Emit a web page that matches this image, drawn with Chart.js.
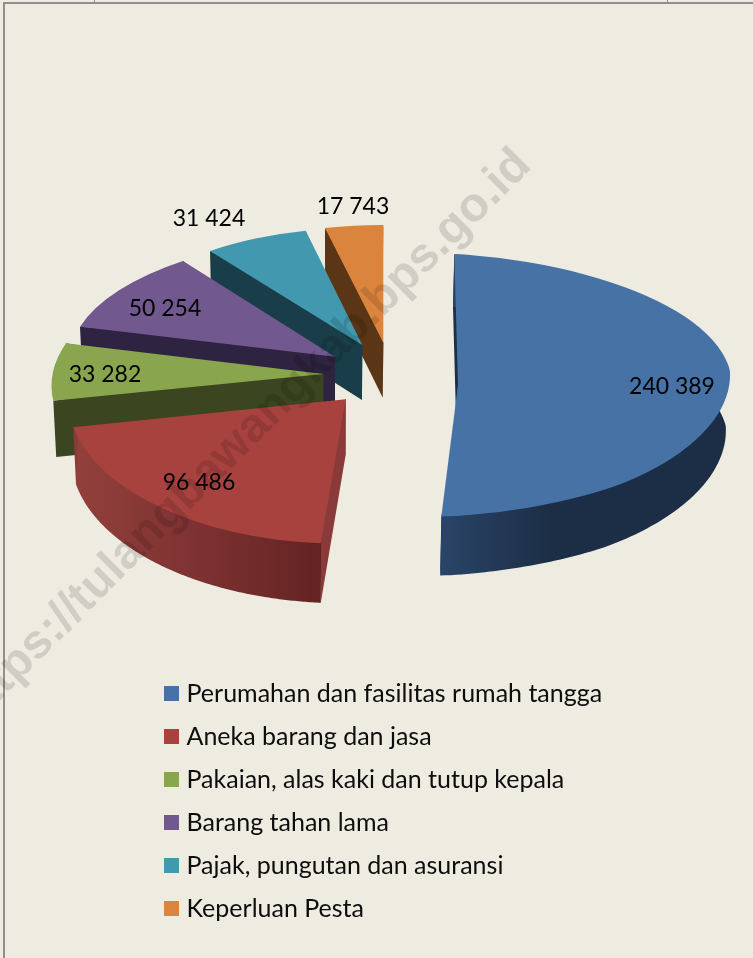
<!DOCTYPE html>
<html>
<head>
<meta charset="utf-8">
<script src="https://cdn.jsdelivr.net/npm/chart.js@4/dist/chart.umd.min.js"></script>
<style>
html,body{margin:0;padding:0;background:#EEECE1;width:753px;height:958px;overflow:hidden}
#frame{position:absolute;left:3px;top:2px;width:760px;height:970px;border:2px solid #8f8f8f;box-sizing:border-box}
.tick{position:absolute;top:0;width:1px;height:2px;background:#8f8f8f}
canvas{position:absolute;left:0;top:0}
</style>
</head>
<body>
<div id="frame"></div>
<div class="tick" style="left:94px"></div>
<div class="tick" style="left:667px"></div>
<canvas id="c" width="753" height="958"></canvas>
<script>
const categories = ["Perumahan dan fasilitas rumah tangga","Aneka barang dan jasa","Pakaian, alas kaki dan tutup kepala","Barang tahan lama","Pajak, pungutan dan asuransi","Keperluan Pesta"];
const values = [240389,96486,33282,50254,31424,17743];
const valueLabels = ["240 389","96 486","33 282","50 254","31 424","17 743"];
const topColors = ["#4672A6","#A8423F","#89A54E","#71588F","#4198AF","#DB843D"];
const watermark = "https://tulangbawangkab.bps.go.id";

// Layout of the exploded 3D view: apex, and two rim points of each slice.
const apex = [[458,385],[345.7,399.3],[323.3,374],[335,356.7],[362.3,345],[383.3,342.7]];
const rimA = [[454.3,254],[320.7,543.3],[53.3,400.7],[80,326.7],[210,251],[325,228]];
const rimB = [[730,378],[73.3,427.3],[66,343.3],[183,261],[305.7,230.7],[383.3,225]];
const labelPos = [[672,387],[199,483],[105,375],[165,309],[209,219],[353,207]];
const radialWall = ["#1c2f47","#8a3a38","#3b451f","#2e2340","#1a3d4a","#5a3516"];
const rimWallStops = [["#2a4468","#1b2e45","#1b2e45"],["#93403c","#7d3231","#632322"]];
const useMidForB = [true,false,false,false,false,false];
// Perspective outline of the large slice: the rim is an ellipse centred away from its apex.
const bigRim = {cx:400,cy:385,a:332,b:133};

function matrixFor(i, el){
  const s = el.startAngle, e = useMidForB[i] ? (el.startAngle+el.endAngle)/2 : el.endAngle;
  const A = apex[i], P = rimA[i], Q = rimB[i];
  const ux=Math.cos(s), uy=Math.sin(s), vx=Math.cos(e), vy=Math.sin(e);
  const det = ux*vy-uy*vx;
  const px=P[0]-A[0], py=P[1]-A[1], qx=Q[0]-A[0], qy=Q[1]-A[1];
  return {
    a:(px*vy-qx*uy)/det, b:(py*vy-qy*uy)/det,
    c:(qx*ux-px*vx)/det, d:(qy*ux-py*vx)/det,
    x:A[0], y:A[1]
  };
}
const rimPoint=(m,t)=>[m.x+m.a*Math.cos(t)+m.c*Math.sin(t), m.y+m.b*Math.cos(t)+m.d*Math.sin(t)];
const dropped=p=>[p[0]+(330-p[0])*0.0105, p[1]+55+(p[1]-340)*0.022];
const poly=(ctx,list)=>{ctx.beginPath();list.forEach((p,k)=>k?ctx.lineTo(p[0],p[1]):ctx.moveTo(p[0],p[1]));ctx.closePath();};
function trim(i,p){
  if(i!==0) return p;
  const dx=(p[0]-bigRim.cx)/bigRim.a, dy=(p[1]-bigRim.cy)/bigRim.b;
  const k=1/Math.hypot(dx,dy);
  return k<1?[bigRim.cx+(p[0]-bigRim.cx)*k,bigRim.cy+(p[1]-bigRim.cy)*k]:p;
}

const pie3d = {
  id:'pie3d',
  beforeDatasetsDraw(chart){
    const ctx = chart.ctx, meta = chart.getDatasetMeta(0);
    const order=[5,4,3,2,1,0];
    order.forEach(i=>{
      const el = meta.data[i], m = matrixFor(i,el);
      const A=[m.x,m.y], P0=trim(i,rimPoint(m,el.startAngle)), P1=trim(i,rimPoint(m,el.endAngle));
      const Pm=rimPoint(m,(el.startAngle+el.endAngle)/2);
      const inner=[A[0]+(Pm[0]-A[0])*0.3,A[1]+(Pm[1]-A[1])*0.3];
      [P1,P0].forEach(P=>{
        poly(ctx,[inner,P,dropped(P),dropped(A),A]);
        ctx.fillStyle=radialWall[i]; ctx.fill();
      });
      if(i<=1){
        const pts=[]; const n=160;
        for(let k=0;k<=n;k++){ pts.push(trim(i,rimPoint(m,el.startAngle+(el.endAngle-el.startAngle)*k/n))); }
        let minX=1e9,maxX=-1e9; pts.forEach(p=>{minX=Math.min(minX,p[0]);maxX=Math.max(maxX,p[0]);});
        if(i===0){maxX=730;minX=442;}
        const g=ctx.createLinearGradient(minX,0,maxX,0);
        rimWallStops[i].forEach((c,k)=>g.addColorStop(i===0?[0,0.38,1][k]:k/2,c));
        const upper=pts.map(p=>[A[0]+(p[0]-A[0])*0.98,A[1]+(p[1]-A[1])*0.98]);
        poly(ctx,upper.concat(pts.slice().reverse().map(dropped)));
        ctx.fillStyle=g; ctx.fill();
      }
      ctx.save();
      if(i===0){
        ctx.beginPath();
        ctx.ellipse(bigRim.cx,bigRim.cy,bigRim.a,bigRim.b,0,0,Math.PI*2);
        ctx.clip();
      }
      const r=el.outerRadius;
      ctx.transform(m.a/r,m.b/r,m.c/r,m.d/r,m.x,m.y);
      ctx.translate(-el.x,-el.y);
      el.draw(ctx);
      ctx.restore();
    });
    return true;
  },
  beforeDatasetDraw(){ return false; },
  afterDatasetsDraw(chart){
    const ctx=chart.ctx;
    ctx.save();
    ctx.fillStyle='#000'; ctx.textAlign='center'; ctx.textBaseline='middle';
    ctx.font='23px Lato';
    valueLabels.forEach((t,i)=>ctx.fillText(t,labelPos[i][0],labelPos[i][1]));
    ctx.restore();
  },
  afterDraw(chart){
    const ctx=chart.ctx;
    ctx.save();
    ctx.translate(533,167);
    ctx.rotate(-Math.PI/4);
    ctx.font='bold 48px "Liberation Sans"';
    ctx.textAlign='right'; ctx.textBaseline='alphabetic';
    ctx.fillStyle='rgba(0,0,0,0.125)';
    ctx.fillText(watermark,0,0);
    ctx.restore();
  }
};

new Chart(document.getElementById('c'),{
  type:'pie',
  data:{labels:categories,datasets:[{data:values,backgroundColor:topColors,borderWidth:0}]},
  plugins:[pie3d],
  options:{
    responsive:false,animation:false,
    events:[],
    layout:{padding:{left:151,right:0,top:0,bottom:19}},
    plugins:{
      tooltip:{enabled:false},
      legend:{
        position:'left',align:'end',maxWidth:570,
        labels:{
          font:{family:'Lato',size:25},color:'#0d0d0d',
          usePointStyle:true,pointStyle:'rect',boxWidth:5,boxHeight:15,padding:18
        }
      }
    }
  }
});
</script>
</body>
</html>
